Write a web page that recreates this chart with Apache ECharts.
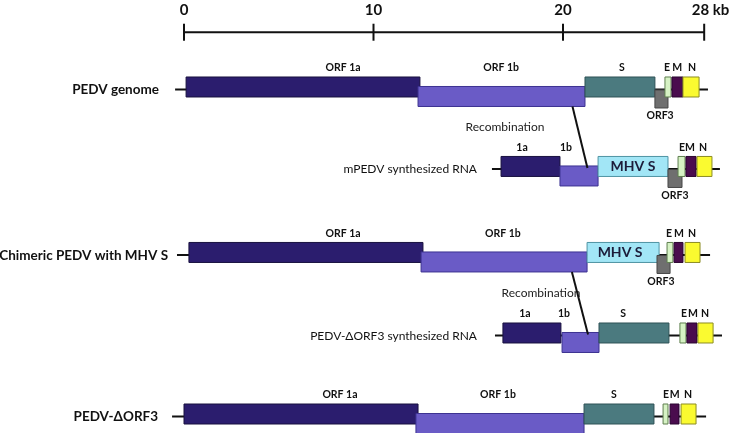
<!DOCTYPE html>
<html>
<head>
<meta charset="utf-8">
<script src="https://cdn.jsdelivr.net/npm/echarts@6/dist/echarts.min.js"></script>
<style>html,body{margin:0;padding:0;background:#fff}#c{width:731px;height:433px}</style>
</head>
<body>
<div id="c"></div>
<script>
// ---------------- data (positions in kb) ----------------
const scaleTicks  = [0, 10, 20, 27.45];
const scaleLabels = ['0', '10', '20', '28 kb'];

const rowNames  = ['PEDV genome', 'mPEDV synthesized RNA', 'Chimeric PEDV with MHV S', 'PEDV-\u0394ORF3 synthesized RNA', 'PEDV-\u0394ORF3'];
const rowBold   = [true, false, true, false, true];
const rowTrack  = [0, 0.972, 2.024, 3.009, 4];
const rowStart  = [-0.47, 16.25, -0.37, 16.41, -0.63];
const rowEnd    = [27.65, 28.28, 27.76, 28.39, 27.55];
const rowNameX  = [-1.32, 15.46, -0.84, 15.46, -1.37];

// [type, start, end, label, labelX]
const genesPEDV = [
  ['orf1a', 0.11, 12.45, 'ORF 1a', 8.39],
  ['orf1b', 12.35, 21.16, 'ORF 1b', 16.73],
  ['s', 21.16, 24.85, 'S', 23.11],
  ['orf3', 24.85, 25.54, 'ORF3', 25.12],
  ['e', 25.38, 25.70, 'E', 25.49],
  ['m', 25.75, 26.33, 'M', 26.02],
  ['n', 26.33, 27.18, 'N', 26.81]
];
const genesMPEDV = [
  ['orf1a', 16.73, 19.84, '1a', 17.84],
  ['orf1b', 19.84, 21.85, '1b', 20.16],
  ['mhvs', 21.85, 25.54, 'MHV S', 23.69],
  ['orf3', 25.54, 26.28, 'ORF3', 25.91],
  ['e', 26.07, 26.44, 'E', 26.28],
  ['m', 26.49, 27.02, 'M', 26.70],
  ['n', 27.07, 27.86, 'N', 27.39]
];
const genesChimeric = [
  ['orf1a', 0.26, 12.61, 'ORF 1a', 8.39],
  ['orf1b', 12.51, 21.27, 'ORF 1b', 16.83],
  ['mhvs', 21.27, 25.07, 'MHV S', 23.01],
  ['orf3', 24.96, 25.65, 'ORF3', 25.17],
  ['e', 25.49, 25.80, 'E', 25.59],
  ['m', 25.86, 26.33, 'M', 26.12],
  ['n', 26.44, 27.23, 'N', 26.81]
];
const genesDelSynth = [
  ['orf1a', 16.83, 19.89, '1a', 17.99],
  ['orf1b', 19.95, 21.90, '1b', 20.05],
  ['s', 21.90, 25.59, 'S', 23.17],
  ['e', 26.17, 26.49, 'E', 26.39],
  ['m', 26.54, 27.07, 'M', 26.86],
  ['n', 27.12, 27.92, 'N', 27.49]
];
const genesDelORF3 = [
  ['orf1a', 0.00, 12.35, 'ORF 1a', 8.23],
  ['orf1b', 12.24, 21.11, 'ORF 1b', 16.57],
  ['s', 21.11, 24.80, 'S', 22.69],
  ['e', 25.28, 25.54, 'E', 25.44],
  ['m', 25.65, 26.12, 'M', 25.89],
  ['n', 26.23, 27.02, 'N', 26.60]
];

// recombination links: [fromRow, fromX, toRow, toX, labelX]
const recombLinks = [
  [0, 20.50, 1, 21.29, 16.94],
  [2, 20.47, 3, 21.32, 18.84]
];
const recombLabel = 'Recombination';

// ---------------- layout / styles ----------------
const scaleTrack = -0.67;
const FONT = 'Lato, "Open Sans", "DejaVu Sans", sans-serif';
const geneStyle = {
  orf1a: { fill: '#2b1d6e', stroke: '#19113f' },
  orf1b: { fill: '#6a5bc6', stroke: '#3d3391' },
  s:     { fill: '#4b7a7f', stroke: '#2f5256' },
  mhvs:  { fill: '#a2e6f6', stroke: '#4f93a3' },
  orf3:  { fill: '#6f6f6f', stroke: '#474747' },
  e:     { fill: '#d6f2c4', stroke: '#5f7f4f' },
  m:     { fill: '#4a0c4e', stroke: '#2a0630' },
  n:     { fill: '#fafa30', stroke: '#8c8c24' }
};
// vertical extent relative to track centre (px)
const geneOffset = { orf1b: [-0.5, 19.5], orf3: [3, 21] };
const defaultOffset = [-10, 10];

const rowGenes = [genesPEDV, genesMPEDV, genesChimeric, genesDelSynth, genesDelORF3];
const geneList = [];
rowGenes.forEach((arr, r) => arr.forEach(g => geneList.push({ row: r, type: g[0], start: g[1], end: g[2], label: g[3], labelX: g[4] })));

const chart = echarts.init(document.getElementById('c'), null, { renderer: 'canvas' });

const option = {
  animation: false,
  backgroundColor: '#ffffff',
  grid: { left: 0, right: 0, top: 0, bottom: 0 },
  xAxis: { type: 'value', min: -9.7098, max: 28.865, show: false },
  yAxis: { type: 'value', inverse: true, min: -1.0642, max: 4.2324, show: false },
  series: [
    // scale bar line
    {
      type: 'custom', clip: false, silent: true,
      data: [[scaleTicks[0], scaleTicks[scaleTicks.length - 1], scaleTrack]],
      renderItem(params, api) {
        const a = api.coord([api.value(0), api.value(2)]);
        const b = api.coord([api.value(1), api.value(2)]);
        return { type: 'line', shape: { x1: a[0], y1: a[1], x2: b[0], y2: b[1] }, style: { stroke: '#111', lineWidth: 2 } };
      }
    },
    // scale ticks + labels
    {
      type: 'custom', clip: false, silent: true,
      data: scaleTicks.map(v => [v, scaleTrack]),
      renderItem(params, api) {
        const p = api.coord([api.value(0), api.value(1)]);
        const lbl = scaleLabels[params.dataIndex];
        const last = lbl.indexOf(' ') >= 0;
        return {
          type: 'group',
          children: [
            { type: 'line', shape: { x1: p[0], y1: p[1] - 8.5, x2: p[0], y2: p[1] + 8.5 }, style: { stroke: '#111', lineWidth: 2 } },
            { type: 'text', style: { x: last ? p[0] - 12.5 : p[0], y: p[1] - 22, text: lbl, align: last ? 'left' : 'center', verticalAlign: 'middle', font: 'bold 15px ' + FONT, fill: '#111' } }
          ]
        };
      }
    },
    // backbone lines
    {
      type: 'custom', clip: false, silent: true,
      data: rowTrack.map((t, i) => [rowStart[i], rowEnd[i], t]),
      renderItem(params, api) {
        const a = api.coord([api.value(0), api.value(2)]);
        const b = api.coord([api.value(1), api.value(2)]);
        return { type: 'line', shape: { x1: a[0], y1: a[1] + 2.5, x2: b[0], y2: b[1] + 2.5 }, style: { stroke: '#111', lineWidth: 2 } };
      }
    },
    // row names
    {
      type: 'custom', clip: false, silent: true,
      data: rowTrack.map((t, i) => [rowNameX[i], t]),
      renderItem(params, api) {
        const p = api.coord([api.value(0), api.value(1)]);
        const i = params.dataIndex;
        return { type: 'text', style: { x: p[0], y: p[1] + 3, text: rowNames[i], align: 'right', verticalAlign: 'middle',
          font: (rowBold[i] ? 'bold 13.5px ' : '12px ') + FONT, fill: '#111' } };
      }
    },
    // gene boxes
    {
      type: 'custom', clip: false, silent: true,
      data: geneList.map(g => [g.start, g.end, rowTrack[g.row]]),
      renderItem(params, api) {
        const g = geneList[params.dataIndex];
        const a = api.coord([api.value(0), api.value(2)]);
        const b = api.coord([api.value(1), api.value(2)]);
        const off = geneOffset[g.type] || defaultOffset;
        const st = geneStyle[g.type];
        return { type: 'rect', shape: { x: a[0], y: a[1] + off[0], width: b[0] - a[0], height: off[1] - off[0] },
          style: { fill: st.fill, stroke: st.stroke, lineWidth: 1 } };
      }
    },
    // gene labels
    {
      type: 'custom', clip: false, silent: true,
      data: geneList.map(g => [g.labelX, rowTrack[g.row]]),
      renderItem(params, api) {
        const g = geneList[params.dataIndex];
        const p = api.coord([api.value(0), api.value(1)]);
        let y = p[1] - 19, font = 'bold 10.5px ' + FONT, fill = '#111';
        if (g.type === 'orf3') { y = p[1] + 29; }
        if (g.type === 'mhvs') { y = p[1] + 0.5; font = 'bold 14px ' + FONT; fill = '#1c1c3a'; }
        return { type: 'text', style: { x: p[0], y: y, text: g.label, align: 'center', verticalAlign: 'middle', font: font, fill: fill } };
      }
    },
    // recombination labels
    {
      type: 'custom', clip: false, silent: true,
      data: recombLinks.map(l => [l[4], (rowTrack[l[0]] + rowTrack[l[2]]) / 2]),
      renderItem(params, api) {
        const p = api.coord([api.value(0), api.value(1)]);
        return { type: 'text', style: { x: p[0], y: p[1], text: recombLabel, align: 'center', verticalAlign: 'middle', font: '12px ' + FONT, fill: '#222' } };
      }
    },
    // recombination lines
    {
      type: 'custom', clip: false, silent: true,
      data: recombLinks.map(l => [l[1], rowTrack[l[0]], l[3], rowTrack[l[2]]]),
      renderItem(params, api) {
        const a = api.coord([api.value(0), api.value(1)]);
        const b = api.coord([api.value(2), api.value(3)]);
        return { type: 'line', shape: { x1: a[0], y1: a[1] + 19.5, x2: b[0], y2: b[1] + 1.5 }, style: { stroke: '#111', lineWidth: 2 } };
      }
    }
  ]
};
chart.setOption(option);
</script>
</body>
</html>
